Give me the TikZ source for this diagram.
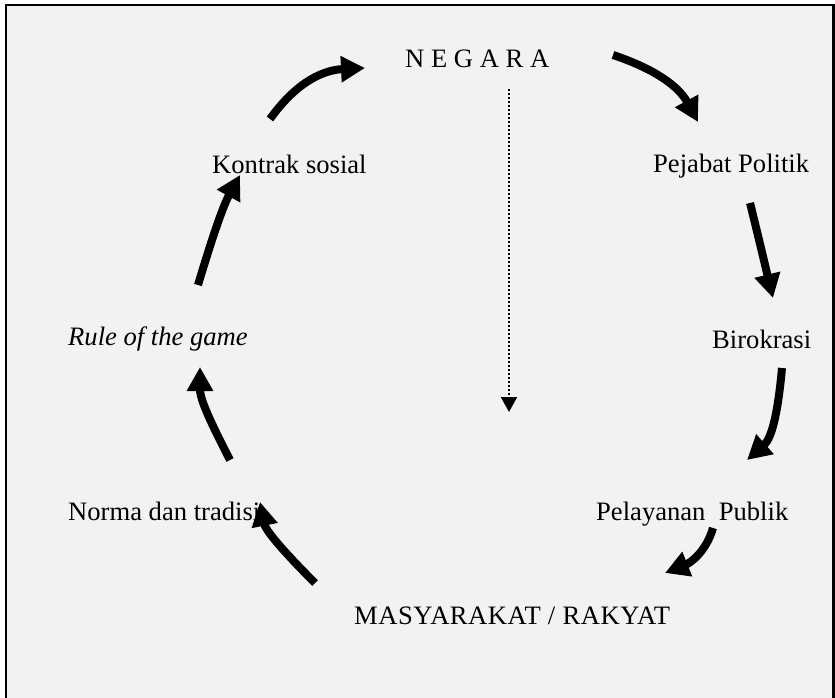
\documentclass[tikz,border=0pt]{standalone}
\usepackage{fontspec}
\setmainfont{Liberation Serif}
\usetikzlibrary{arrows.meta}
\definecolor{bg}{HTML}{F2F2F2}
\tikzset{
  lbl/.style={inner sep=0pt, anchor=base west, font=\fontsize{26.6}{30}\selectfont},
  cyc/.style={line width=8pt, -{Triangle[width=25pt,length=24pt]}},
  dotarrow/.style={line width=2pt, dash pattern=on 2pt off 2pt, -{Triangle[width=16pt,length=15pt]}}
}
\begin{document}
\begin{tikzpicture}[x=1pt,y=-1pt]
\useasboundingbox (0,0) rectangle (835,698);
\fill[bg] (6,5) rectangle (834,698);
\draw[line width=2.5pt] (6,698) -- (6,5) -- (833.5,5) -- (833.5,698);

\node[lbl] (negara) at (405,68) {N E G A R A};
\node[lbl] (pejabat) at (653,172) {Pejabat Politik};
\node[lbl] (birokrasi) at (712,348) {Birokrasi};
\node[lbl] (pelayanan) at (596,520) {Pelayanan~ Publik};
\node[lbl] (masyarakat) at (354,624) {\addfontfeature{LetterSpace=2}MASYARAKAT / RAKYAT};
\node[lbl] (norma) at (68,520) {Norma dan tradisi};
\node[lbl] (rule) at (68,345) {\itshape Rule of the game};
\node[lbl] (kontrak) at (212,173) {Kontrak sosial};

\coordinate (a1s) at (270,119); \coordinate (a1e) at (365,68);
\coordinate (a2s) at (613,55);  \coordinate (a2e) at (698,122);
\coordinate (a3s) at (750,203); \coordinate (a3e) at (773,298);
\coordinate (a4s) at (782,368); \coordinate (a4e) at (747,460);
\coordinate (a5s) at (713,528); \coordinate (a5e) at (665,573);
\coordinate (a6s) at (315,583); \coordinate (a6e) at (260,502);
\coordinate (a7s) at (230,460); \coordinate (a7e) at (200,367);
\coordinate (a8s) at (198,285); \coordinate (a8e) at (240,175);
\coordinate (ds) at (509,89);   \coordinate (de) at (509,412);

\draw[cyc] (a1s) .. controls (298,80) and (325,70) .. (a1e);
\draw[cyc] (a2s) .. controls (652,68) and (678,85) .. (a2e);
\draw[cyc] (a3s) .. controls (758,235) and (765,265) .. (a3e);
\draw[cyc] (a4s) .. controls (778,412) and (772,438) .. (a4e);
\draw[cyc] (a5s) .. controls (706,552) and (690,563) .. (a5e);
\draw[cyc] (a6s) .. controls (290,558) and (266,532) .. (a6e);
\draw[cyc] (a7s) .. controls (212,425) and (200,400) .. (a7e);
\draw[cyc] (a8s) .. controls (210,245) and (222,208) .. (a8e);
\draw[dotarrow] (ds) -- (de);
\end{tikzpicture}
\end{document}
